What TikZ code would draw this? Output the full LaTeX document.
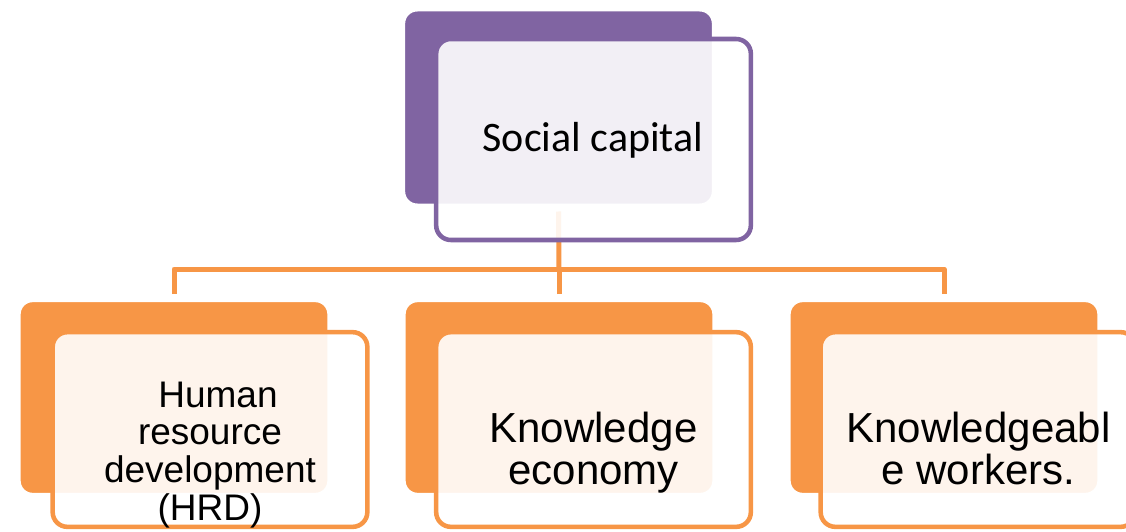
\documentclass[tikz,border=0pt]{standalone}
\usepackage{fontspec}
\setmainfont{Liberation Sans}
\newfontfamily\calibri{Carlito}
\usetikzlibrary{shadows}
\definecolor{smpurple}{HTML}{8064A2}
\definecolor{smorange}{HTML}{F79646}

\begin{document}
\begin{tikzpicture}[x=0.75pt,y=-0.75pt,
    backbox/.style={draw=white, line width=6pt, rounded corners=12pt, fill=#1,
      minimum width=236pt, minimum height=150pt, inner sep=0pt,
      drop shadow={opacity=0.15, shadow xshift=0pt, shadow yshift=-2pt}},
    frontbox/.style={draw=#1, line width=3.4pt, rounded corners=11pt,
      fill=white, fill opacity=0.9, minimum width=236pt, minimum height=146pt,
      inner sep=0pt},
    link/.style={draw=smorange, line width=3.75pt, line join=round},
    bigtext/.style={font=\fontsize{31.5}{31.5}\selectfont, align=center, inner sep=0pt},
    smalltext/.style={font=\fontsize{27.75}{28.2}\selectfont, align=center, inner sep=0pt}]
  \useasboundingbox (0,0) rectangle (1126,531);

  % 底层色块
  \node[backbox=smpurple] (bsoc) at (558.5,107.5) {};
  \foreach \n/\x in {hrd/174, econ/559, work/944}
    \node[backbox=smorange, minimum height=149pt] (b\n) at (\x,397.5) {};

  % 连接线
  \coordinate (bus) at (559,269);
  \draw[link] (bsoc.south) -- (bus);
  \foreach \n in {hrd, econ, work}
    \draw[link] (b\n.north) |- (bus);

  % 前层框
  \node[frontbox=smpurple, minimum height=150.75pt] (fsoc) at (593.5,139.5) {};
  \foreach \n/\x in {hrd/210, econ/593.5, work/978}
    \node[frontbox=smorange] (f\n) at (\x,429.5) {};

  % 文字（base = 末行基线）
  \node[font=\calibri\fontsize{31.5}{31.5}\selectfont, inner sep=0pt, anchor=base] (tsoc) at (593,151.7) {Social capital};
  \node[smalltext, anchor=base] (thrd) at (210,520) {\hspace*{12pt}Human\\resource\\development\\(HRD)};
  \node[bigtext, anchor=base] (tecon) at (593.5,484) {Knowledge\\economy};
  \node[bigtext, anchor=base] (twork) at (978.5,484) {Knowledgeabl\\e workers.};

\end{tikzpicture}
\end{document}
